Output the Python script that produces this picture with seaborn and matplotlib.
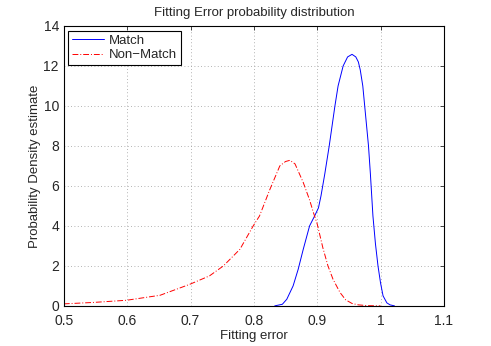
import numpy as np
import pandas as pd
import matplotlib
matplotlib.use("Agg")
import matplotlib.pyplot as plt
import seaborn as sns

# --------------------------
# DATA
# --------------------------
match_x = [0.833, 0.845, 0.852, 0.862, 0.870, 0.878, 0.888, 0.896, 0.902, 0.906,
           0.912, 0.919, 0.928, 0.933, 0.941, 0.948, 0.955, 0.961, 0.965, 0.968,
           0.972, 0.975, 0.981, 0.984, 0.988, 0.992, 0.996, 1.000, 1.004, 1.010,
           1.015, 1.022]
match_y = [0.00, 0.08, 0.33, 1.00, 1.83, 2.83, 4.00, 4.50, 4.90, 5.50,
           6.60, 8.00, 10.00, 11.00, 12.00, 12.45, 12.58, 12.45, 12.20, 11.80,
           11.00, 10.00, 8.00, 6.60, 4.50, 3.10, 2.00, 1.15, 0.50, 0.15,
           0.05, 0.00]

nonmatch_x = [0.500, 0.546, 0.599, 0.652, 0.699, 0.730, 0.752, 0.778, 0.799, 0.809,
              0.825, 0.841, 0.850, 0.857, 0.865, 0.878, 0.888, 0.894, 0.900, 0.909,
              0.917, 0.925, 0.936, 0.945, 0.955, 0.965, 0.980, 1.000]
nonmatch_y = [0.10, 0.17, 0.28, 0.53, 1.08, 1.50, 2.00, 2.83, 4.00, 4.50,
              5.80, 7.00, 7.22, 7.28, 7.10, 6.17, 5.30, 4.67, 4.10, 2.90,
              2.00, 1.33, 0.67, 0.30, 0.12, 0.05, 0.01, 0.00]

series_names = ["Match", "Non\u2212Match"]
x_ticks = [0.5, 0.6, 0.7, 0.8, 0.9, 1.0, 1.1]
x_tick_labels = ["0.5", "0.6", "0.7", "0.8", "0.9", "1", "1.1"]
y_ticks = [0, 2, 4, 6, 8, 10, 12, 14]

df = pd.concat([
    pd.DataFrame({"x": match_x, "y": match_y, "series": series_names[0]}),
    pd.DataFrame({"x": nonmatch_x, "y": nonmatch_y, "series": series_names[1]}),
], ignore_index=True)

# --------------------------
# PLOT
# --------------------------
sns.set_style("white")
plt.rcParams["font.family"] = ["Liberation Sans", "DejaVu Sans"]

fig = plt.figure(figsize=(4.91, 3.46), dpi=100)
ax = fig.add_axes([0.130, 0.116, 0.774, 0.809])

sns.lineplot(data=df, x="x", y="y", hue="series", style="series",
             palette={series_names[0]: "#0000ff", series_names[1]: "#ff0000"},
             dashes={series_names[0]: "", series_names[1]: (6, 2, 1, 2)},
             sort=False, estimator=None, linewidth=0.7, ax=ax)

ax.set_xlim(0.5, 1.1)
ax.set_ylim(0, 14)
ax.set_xticks(x_ticks)
ax.set_xticklabels(x_tick_labels)
ax.set_yticks(y_ticks)
ax.tick_params(direction="in", length=3, width=0.6, labelsize=10,
               top=True, right=True)
ax.tick_params(axis="x", pad=5.5)
ax.tick_params(axis="y", pad=3.5)
ax.grid(True, linestyle=(0, (1, 3)), color="#9a9a9a", linewidth=0.6)
for s in ax.spines.values():
    s.set_color("black")
    s.set_linewidth(0.8)

ax.set_xlabel("Fitting error", fontsize=9.5, labelpad=2)
ax.set_ylabel("Probability Density estimate", fontsize=9.5, labelpad=2)
ax.set_title("Fitting Error probability distribution", fontsize=9.5, pad=7)

leg = ax.legend(loc="upper left", fontsize=9.5, fancybox=False, framealpha=1,
                edgecolor="black", handlelength=2.4, handletextpad=0.35,
                borderpad=0.3, labelspacing=0.18, borderaxespad=0.35)
leg.get_frame().set_linewidth(0.8)

fig.savefig("out.png", dpi=100)
